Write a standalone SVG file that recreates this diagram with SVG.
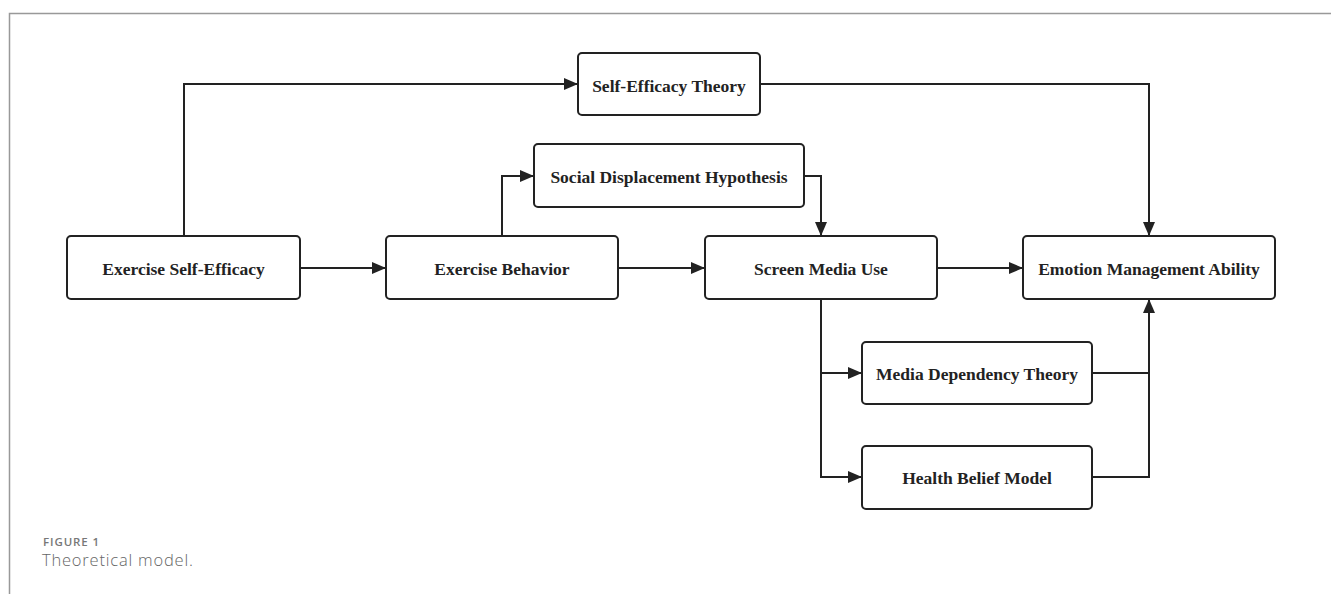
<svg xmlns="http://www.w3.org/2000/svg" width="1331" height="594" viewBox="0 0 1331 594">
<defs>
<marker id="arr" markerUnits="userSpaceOnUse" markerWidth="14" markerHeight="12" refX="14" refY="6" orient="auto">
<path d="M0,0 L14,6 L0,12 z" fill="#222"/>
</marker>
<style>
.box{fill:#fff;stroke:#222;stroke-width:2}
.lbl{font-family:"Liberation Serif","Times New Roman",serif;font-weight:bold;font-size:17.5px;fill:#222;text-anchor:middle}
.conn{fill:none;stroke:#222;stroke-width:2}
.frame{stroke:#999;stroke-width:1.5;fill:none}
</style>
</defs>
<rect width="1331" height="594" fill="#fff"/>
<path class="frame" d="M9.5,594 V13.5 H1331"/>
<g id="connectors">
<path class="conn" d="M184,236 V84 H578" marker-end="url(#arr)"/>
<path class="conn" d="M760,84 H1149 V236" marker-end="url(#arr)"/>
<path class="conn" d="M300,268 H386" marker-end="url(#arr)"/>
<path class="conn" d="M502,236 V176 H534" marker-end="url(#arr)"/>
<path class="conn" d="M804,176 H821 V236" marker-end="url(#arr)"/>
<path class="conn" d="M618,268 H705" marker-end="url(#arr)"/>
<path class="conn" d="M937,268 H1023" marker-end="url(#arr)"/>
<path class="conn" d="M821,299 V477 H862" marker-end="url(#arr)"/>
<path class="conn" d="M821,373 H862" marker-end="url(#arr)"/>
<path class="conn" d="M1092,373 H1149"/>
<path class="conn" d="M1092,477 H1149 V299" marker-end="url(#arr)"/>
</g>
<g id="n-ese"><rect class="box" x="67" y="236" width="233" height="63" rx="4"/><text class="lbl" x="183.5" y="275">Exercise Self-Efficacy</text></g>
<g id="n-eb"><rect class="box" x="386" y="236" width="232" height="63" rx="4"/><text class="lbl" x="502" y="275">Exercise Behavior</text></g>
<g id="n-smu"><rect class="box" x="705" y="236" width="232" height="63" rx="4"/><text class="lbl" x="821" y="275">Screen Media Use</text></g>
<g id="n-ema"><rect class="box" x="1023" y="236" width="252" height="63" rx="4"/><text class="lbl" x="1149" y="275">Emotion Management Ability</text></g>
<g id="n-set"><rect class="box" x="578" y="53" width="182" height="62" rx="4"/><text class="lbl" x="669" y="91.5">Self-Efficacy Theory</text></g>
<g id="n-sdh"><rect class="box" x="534" y="144" width="270" height="63" rx="4"/><text class="lbl" x="669" y="183">Social Displacement Hypothesis</text></g>
<g id="n-mdt"><rect class="box" x="862" y="342" width="230" height="62" rx="4"/><text class="lbl" x="977" y="380">Media Dependency Theory</text></g>
<g id="n-hbm"><rect class="box" x="862" y="446" width="230" height="63" rx="4"/><text class="lbl" x="977" y="484">Health Belief Model</text></g>
<text x="43" y="546" font-family="'Open Sans','Noto Sans',sans-serif" font-size="11.5" font-weight="600" letter-spacing="0.9" fill="#777">FIGURE 1</text>
<text x="42" y="565.5" font-family="'Open Sans','Noto Sans',sans-serif" font-size="16.5" font-weight="300" letter-spacing="0.8" fill="#666">Theoretical model.</text>
</svg>
